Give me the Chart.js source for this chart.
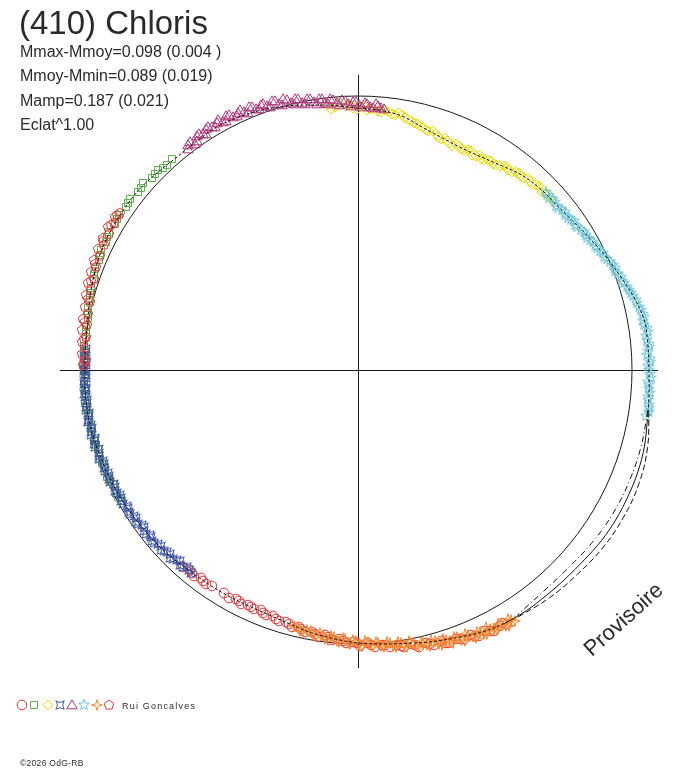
<!DOCTYPE html>
<html>
<head>
<meta charset="utf-8">
<title>(410) Chloris</title>
<script src="https://cdn.jsdelivr.net/npm/chart.js@4.4.1/dist/chart.umd.min.js"></script>
<style>
    html, body { margin: 0; padding: 0; background: #fff; }
    canvas { display: block; }
</style>
</head>
<body>
<canvas id="polarChart" width="688" height="768"></canvas>
<script>
// ========================================
// DATA (phase in degrees, clockwise from top; radius in units of the mean circle)
// ========================================
const titleText = '(410) Chloris';
const statLines = [
    'Mmax-Mmoy=0.098 (0.004 )',
    'Mmoy-Mmin=0.089 (0.019)',
    'Mamp=0.187 (0.021)',
    'Eclat^1.00'
];
const observer = 'Rui Goncalves';
const credit = '\u00A92026 OdG-RB';
const stamp = 'Provisoire';

// fitted lightcurve, every 5 degrees
const fitAngles = [0, 5, 10, 15, 20, 25, 30, 35, 40, 45, 50, 55, 60, 65, 70, 75, 80, 85,
    90, 95, 100, 105, 110, 115, 120, 125, 130, 135, 140, 145, 150, 155, 160, 165, 170, 175,
    180, 185, 190, 195, 200, 205, 210, 215, 220, 225, 230, 235, 240, 245, 250, 255, 260, 265,
    270, 275, 280, 285, 290, 295, 300, 305, 310, 315, 320, 325, 330, 335, 340, 345, 350, 355];
const fitRadius = [0.956, 0.951, 0.940, 0.916, 0.901, 0.894, 0.898, 0.911, 0.929, 0.938, 0.942, 0.953,
    0.971, 0.993, 1.015, 1.040, 1.060, 1.062, 1.062, 1.066, 1.072, 1.082, 1.087, 1.088,
    1.088, 1.085, 1.078, 1.074, 1.072, 1.072, 1.068, 1.057, 1.040, 1.027, 1.013, 1.004,
    0.996, 0.985, 0.974, 0.960, 0.951, 0.949, 0.951, 0.953, 0.956, 0.965, 0.971, 0.976,
    0.982, 0.987, 0.991, 0.995, 0.998, 0.998, 0.996, 0.998, 1.002, 1.013, 1.024, 1.033,
    1.036, 1.036, 1.035, 1.026, 1.020, 1.022, 1.026, 1.020, 1.011, 0.998, 0.982, 0.969];

// uncertainty envelope where no data covers the curve
const gapAngles = [98, 105, 112, 119, 126, 133, 140, 147];
const gapLow = [1.068, 1.070, 1.070, 1.068, 1.062, 1.054, 1.054, 1.067];
const gapHigh = [1.072, 1.094, 1.106, 1.108, 1.104, 1.094, 1.086, 1.074];

// sessions: [phase, radius]
const session1 = [[149.5,1.075],[151,1.068],[152.5,1.072],[154,1.060],[155.5,1.065],[157,1.052],
    [158.5,1.056],[160,1.046],[161.5,1.050],[163,1.036],[164.5,1.042],[166,1.028],[167.5,1.034],
    [169,1.018],[170.5,1.026],[172,1.012],[173.5,1.018],[175,1.006],[176.5,1.012],[178,0.998],
    [179.5,1.006],[181,0.992],[182.5,0.998],[184,0.984],[185.5,0.990],[187,0.976],[188.5,0.984],
    [190,0.970],[191.5,0.976],[193,0.963],[194.5,0.968],[196,0.956],[197.5,0.962],[199,0.951],
    [200.5,0.956],[202,0.946],[203.5,0.952],[205,0.946],[206.5,0.954],[208,0.948],[209.5,0.955],
    [211,0.950],[214,0.953],[215.5,0.958],[217,0.952],[218.5,0.960],[220,0.955],[221.5,0.962],
    [150.3,1.062],[153.2,1.066],[156.3,1.060],[159.2,1.050],[162.3,1.044],[165.2,1.034],
    [168.3,1.024],[171.2,1.018],[174.3,1.010],[177.2,1.004],[180.3,0.998],[183.2,0.990],
    [186.3,0.982],[189.2,0.976],[192.3,0.968],[195.3,0.960],[198.2,0.955],[201.3,0.950],
    [204.2,0.950],[207.3,0.950],[216.3,0.955],[219.3,0.958]];
const session2 = [[241,0.986],[243,0.992],[245,0.988],[247,0.995],[249,0.990],[251,0.997],
    [253,0.992],[255,0.999],[257,0.995],[259,1.001],[261,0.996],[263,1.002],[265,0.997],
    [267,1.003],[269,0.996],[271,1.002],[273,0.997],[275,1.004],[277,0.999],[279,1.006],
    [281,1.004],[283,1.012],[285,1.012],[287,1.020],[289,1.020],[291,1.028],[293,1.028],
    [295,1.036],[297,1.032],[299,1.040],[301,1.034],[303,1.041],[305,1.034],[307,1.040],
    [309,1.032],[311,1.038],[313,1.028],[315,1.032],[317,1.022],[318.5,1.027],
    [242,0.990],[246,0.992],[250,0.994],[254,0.996],[258,0.998],[262,0.999],[266,1.000],
    [270,0.999],[274,1.001],[278,1.002],[282,1.008],[286,1.016],[290,1.024],[294,1.032],
    [298,1.036],[302,1.038],[306,1.037],[310,1.035],[314,1.030],[316,1.027]];
const session3 = [[-6.5,0.972],[-5,0.962],[-3.8,0.975],[-2.5,0.966],[-1,0.958],[0.5,0.962],
    [2,0.950],[3.2,0.958],[4.5,0.948],[6,0.955],[7.5,0.944],[9,0.950],[10.5,0.936],[12,0.930],
    [13.5,0.925],[15,0.918],[16.3,0.910],[17.5,0.914],[19,0.900],[20.5,0.905],[22,0.893],
    [23.5,0.900],[25,0.889],[26.5,0.896],[28,0.890],[29.5,0.901],[31,0.895],[32.5,0.905],
    [34,0.903],[35.5,0.915],[37,0.912],[38.5,0.925],[40,0.922],[41.5,0.935],[43,0.930],
    [44.5,0.940],[46,0.934],[47.5,0.944],[49,0.938],
    [-5.8,0.958],[-4.3,0.970],[-1.8,0.970],[-0.2,0.952],[1.3,0.965],[2.7,0.954],[5.2,0.946],
    [6.8,0.950],[8.3,0.940],[9.8,0.944],[11.2,0.934],[12.8,0.924],[14.2,0.920],[15.8,0.912],
    [18.2,0.906],[19.8,0.896],[21.3,0.899],[22.8,0.888],[24.2,0.896],[25.8,0.892],[27.3,0.898],
    [28.8,0.893],[30.3,0.892],[31.8,0.900],[33.3,0.898],[34.8,0.908],[36.3,0.918],[37.8,0.916],
    [39.3,0.928],[40.8,0.928],[42.3,0.932],[43.8,0.936],[45.3,0.942],[46.8,0.940],[48.3,0.944]];
const session4 = [[219.5,0.960],[221,0.952],[222.3,0.964],[223.6,0.958],[225,0.968],[226.3,0.962],
    [227.6,0.972],[229,0.966],[230.3,0.975],[231.6,0.968],[233,0.978],[234.3,0.972],[235.6,0.981],
    [237,0.975],[238.3,0.984],[239.6,0.978],[241,0.987],[242.3,0.980],[243.6,0.990],[245,0.984],
    [246.3,0.992],[247.6,0.986],[249,0.994],[250.3,0.988],[251.6,0.997],[253,0.990],[254.3,0.999],
    [255.6,0.992],[257,1.001],[258.3,0.994],[259.6,1.002],[261,0.995],[262.3,1.003],[263.6,0.995],
    [265,1.002],[266.3,0.994],[267.6,1.001],[269,0.993],[270.3,1.000],[271.6,0.994],[273,1.001],
    [274.5,0.995],
    [220.2,0.957],[221.7,0.962],[223,0.955],[224.3,0.966],[225.7,0.960],[227,0.970],[228.3,0.964],
    [229.7,0.974],[231,0.970],[232.3,0.978],[233.7,0.970],[235,0.980],[236.3,0.974],[237.7,0.984],
    [239,0.978],[240.3,0.988],[241.7,0.982],[243,0.988],[244.3,0.984],[245.7,0.993],[247,0.988],
    [248.3,0.995],[249.7,0.988],[251,0.998],[252.3,0.991],[253.7,1.000],[255,0.993],[256.3,1.002],
    [257.7,0.994],[259,1.003],[260.3,0.996],[261.7,1.004],[263,0.996],[264.3,1.003],[265.7,0.995],
    [267,1.002],[268.3,0.994],[269.7,1.001],[271,0.994],[272.3,1.002],[273.7,0.995]];
const session5 = [[322.5,1.018],[323.6,1.034],[324.8,1.022],[326,1.040],[327.2,1.026],[328.4,1.042],
    [329.6,1.030],[330.8,1.044],[332,1.028],[333.2,1.042],[334.4,1.026],[335.6,1.040],[336.8,1.022],
    [338,1.036],[339.2,1.018],[340.4,1.032],[341.6,1.012],[342.8,1.026],[344,1.006],[345.2,1.020],
    [346.4,0.998],[347.6,1.012],[348.8,0.990],[350,1.004],[351.2,0.984],[352.4,0.996],[353.6,0.976],
    [354.8,0.990],[356,0.970],[357.2,0.984],[358.4,0.964],[359.6,0.978],[0.8,0.960],[2,0.972],
    [3.2,0.958],[4.4,0.968],[5.6,0.956],
    [323,1.028],[324.2,1.016],[325.4,1.036],[326.6,1.030],[327.8,1.040],[329,1.034],[330.2,1.038],
    [331.4,1.032],[332.6,1.046],[333.8,1.030],[335,1.036],[336.2,1.028],[337.4,1.038],[338.6,1.024],
    [339.8,1.030],[341,1.018],[342.2,1.030],[343.4,1.014],[344.6,1.024],[345.8,1.004],[347,1.016],
    [348.2,0.996],[349.4,1.008],[350.6,0.990],[351.8,1.000],[353,0.982],[354.2,0.994],[355.4,0.976],
    [356.6,0.988],[357.8,0.970],[359,0.980],[0.2,0.966],[1.4,0.974],[2.6,0.962],[3.8,0.972],[5,0.960]];
const session6 = [[46.5,0.945],[48,0.936],[49.5,0.944],[51,0.940],[52.5,0.950],[54,0.946],
    [55.5,0.957],[57,0.955],[58.5,0.966],[60,0.963],[61.5,0.978],[63,0.980],[64.5,0.992],
    [66,0.994],[67.5,1.006],[69,1.004],[70.5,1.020],[72,1.022],[73.5,1.030],[75,1.040],
    [76.5,1.046],[78,1.056],[79.5,1.061],[81,1.057],[82.5,1.066],[84,1.060],[85.5,1.066],
    [87,1.058],[88.5,1.067],[90,1.061],[91.5,1.068],[93,1.062],[94.5,1.070],[96,1.064],
    [97.5,1.071],[99,1.066],
    [47.3,0.940],[48.8,0.946],[50.3,0.938],[51.8,0.947],[53.3,0.944],[54.8,0.952],[56.3,0.952],
    [57.8,0.962],[59.3,0.968],[60.8,0.972],[62.3,0.976],[63.8,0.986],[65.3,0.990],[66.8,1.000],
    [68.3,1.010],[69.8,1.012],[71.3,1.018],[72.8,1.028],[74.3,1.034],[75.8,1.046],[77.3,1.050],
    [78.8,1.060],[80.3,1.056],[81.8,1.064],[83.3,1.058],[84.8,1.066],[86.3,1.062],[87.8,1.068],
    [89.3,1.060],[90.8,1.066],[92.3,1.060],[93.8,1.066],[95.3,1.062],[96.8,1.068],[98.3,1.072]];
const session7 = [[148,1.080],[149,1.062],[150,1.078],[151.2,1.058],[152.3,1.070],[153.5,1.050],
    [154.5,1.066],[155.6,1.048],[156.8,1.062],[158,1.040],[159,1.055],[160.2,1.034],[161.3,1.048],
    [162.5,1.030],[163.6,1.042],[164.8,1.022],[166,1.036],[167,1.018],[168.2,1.030],[169.4,1.008],
    [170.5,1.022],[171.6,1.004],[172.8,1.016],[174,1.000],[175.2,1.012],[176.3,0.996],[177.5,1.006],
    [178.6,0.990],[179.8,1.002],[181,0.986],[182.2,0.998],[183.3,0.980],[184.5,0.992],[185.7,0.976],
    [187,0.988],[188.3,0.970],[189.5,0.982],[191,0.966],[192.5,0.976],[194,0.962],
    [148.5,1.070],[149.5,1.084],[150.6,1.064],[151.8,1.076],[152.9,1.060],[154,1.072],[155,1.054],
    [156.2,1.068],[157.4,1.046],[158.5,1.062],[159.6,1.040],[160.8,1.054],[161.9,1.036],[163,1.048],
    [164.2,1.028],[165.4,1.040],[166.5,1.024],[167.6,1.036],[168.8,1.014],[170,1.026],[171,1.010],
    [172.2,1.022],[173.4,1.004],[174.6,1.016],[175.8,0.998],[176.9,1.010],[178,0.994],[179.2,1.006],
    [180.4,0.990],[181.6,1.000],[182.8,0.984],[184,0.994],[185.1,0.980],[186.4,0.990],[187.6,0.974],
    [188.9,0.984],[190.2,0.968],[191.8,0.978],[193.2,0.964]];
const session8 = [[271,1.004],[272.2,0.994],[273.4,1.010],[274.6,0.998],[275.8,1.014],[277,1.000],
    [278.2,1.016],[279.4,1.004],[280.6,1.020],[281.8,1.008],[283,1.024],[284.2,1.010],[285.4,1.030],
    [286.6,1.016],[287.8,1.034],[289,1.020],[290.2,1.040],[291.4,1.026],[292.6,1.044],[293.8,1.030],
    [295,1.048],[296.2,1.034],[297.4,1.050],[298.6,1.036],[299.8,1.052],[301,1.040],[302.2,1.050],
    [303.4,1.042],
    [271.6,0.998],[276.4,1.006],[280,1.012],[284.8,1.020],[288.4,1.028],[292,1.036],[296.8,1.042],
    [300.4,1.046],[302.8,1.046]];

const sessions = [session1, session2, session3, session4, session5, session6, session7, session8];

// ========================================
// STYLE
// ========================================
const sessionStyles = [
    { shape: 'circle',   color: '#e8343c' },
    { shape: 'square',   color: '#5ab64a' },
    { shape: 'diamond',  color: '#f2e400' },
    { shape: 'astroid',  color: '#3b55a3' },
    { shape: 'triangle', color: '#b0387f' },
    { shape: 'star5',    color: '#6cc6da' },
    { shape: 'star4',    color: '#f7882c' },
    { shape: 'pentagon', color: '#e8383a' }
];

const ORIGIN_X = 358;
const ORIGIN_Y = 370;
const PX_PER_UNIT = 274;
const PAD = { left: 10, right: 8, top: 10, bottom: 10 };
const CANVAS_W = 688;
const CANVAS_H = 768;
const AXIS_EXT = { left: 1.088, right: 1.095, top: 1.077, bottom: 1.088 };
const FONT = '"Liberation Sans", Arial, Helvetica, sans-serif';
const INK = '#2a2a2a';

// ========================================
// MARKERS
// ========================================
function makeMarker(shape, color) {
    const size = 14;
    const c = document.createElement('canvas');
    c.width = size;
    c.height = size;
    const g = c.getContext('2d');
    const m = size / 2;
    g.strokeStyle = color;
    g.lineWidth = 1;
    g.beginPath();

    if (shape === 'circle') {
        g.arc(m, m, 4.8, 0, Math.PI * 2);
    } else if (shape === 'square') {
        g.rect(m - 3.5, m - 3.5, 7, 7);
    } else if (shape === 'diamond') {
        g.moveTo(m, m - 5); g.lineTo(m + 5, m); g.lineTo(m, m + 5); g.lineTo(m - 5, m);
        g.closePath();
    } else if (shape === 'astroid') {
        const k = 4.2;
        g.moveTo(m - k, m - k);
        g.quadraticCurveTo(m, m - 1.2, m + k, m - k);
        g.quadraticCurveTo(m + 1.2, m, m + k, m + k);
        g.quadraticCurveTo(m, m + 1.2, m - k, m + k);
        g.quadraticCurveTo(m - 1.2, m, m - k, m - k);
    } else if (shape === 'triangle') {
        g.moveTo(m, m - 5.2); g.lineTo(m + 5.2, m + 3.8); g.lineTo(m - 5.2, m + 3.8);
        g.closePath();
    } else if (shape === 'star5') {
        for (let i = 0; i < 10; i++) {
            const r = i % 2 === 0 ? 5.6 : 2.4;
            const a = -Math.PI / 2 + i * Math.PI / 5;
            const px = m + r * Math.cos(a);
            const py = m + r * Math.sin(a);
            if (i === 0) g.moveTo(px, py); else g.lineTo(px, py);
        }
        g.closePath();
    } else if (shape === 'star4') {
        for (let i = 0; i < 8; i++) {
            const r = i % 2 === 0 ? 5.4 : 1.7;
            const a = -Math.PI / 2 + i * Math.PI / 4;
            const px = m + r * Math.cos(a);
            const py = m + r * Math.sin(a);
            if (i === 0) g.moveTo(px, py); else g.lineTo(px, py);
        }
        g.closePath();
    } else if (shape === 'pentagon') {
        for (let i = 0; i < 5; i++) {
            const a = -Math.PI / 2 + i * 2 * Math.PI / 5;
            const px = m + 5 * Math.cos(a);
            const py = m + 5 * Math.sin(a);
            if (i === 0) g.moveTo(px, py); else g.lineTo(px, py);
        }
        g.closePath();
    }
    g.stroke();
    return c;
}

const markers = sessionStyles.map(s => makeMarker(s.shape, s.color));

// ========================================
// POLAR -> CARTESIAN
// ========================================
function toXY(angleDeg, radius) {
    const a = angleDeg * Math.PI / 180;
    return { x: radius * Math.sin(a), y: radius * Math.cos(a) };
}

function inGap(angle) {
    return angle >= 97 && angle < 149;
}

// ========================================
// BACKGROUND PLUGIN: circle, axes
// ========================================
const framePlugin = {
    id: 'frame',
    beforeDatasetsDraw(chart) {
        const ctx = chart.ctx;
        const xs = chart.scales.x;
        const ys = chart.scales.y;
        const cx = xs.getPixelForValue(0);
        const cy = ys.getPixelForValue(0);
        const rad = xs.getPixelForValue(1) - cx;

        ctx.save();
        ctx.strokeStyle = '#1a1a1a';
        ctx.lineWidth = 1;

        // mean circle
        ctx.beginPath();
        ctx.arc(cx, cy, rad, 0, Math.PI * 2);
        ctx.stroke();

        // axes cross
        ctx.beginPath();
        ctx.moveTo(xs.getPixelForValue(-AXIS_EXT.left), Math.round(cy) + 0.5);
        ctx.lineTo(xs.getPixelForValue(AXIS_EXT.right), Math.round(cy) + 0.5);
        ctx.moveTo(Math.round(cx) + 0.5, ys.getPixelForValue(AXIS_EXT.top));
        ctx.lineTo(Math.round(cx) + 0.5, ys.getPixelForValue(-AXIS_EXT.bottom));
        ctx.stroke();
        ctx.restore();

        // crisp bitmap markers, like the original plot
        ctx.imageSmoothingEnabled = false;
    }
};

// ========================================
// TEXT PLUGIN
// ========================================
const textPlugin = {
    id: 'texts',
    afterDraw(chart) {
        const ctx = chart.ctx;
        ctx.save();
        ctx.fillStyle = INK;
        ctx.textAlign = 'left';
        ctx.textBaseline = 'alphabetic';

        ctx.font = '33px ' + FONT;
        ctx.fillText(titleText, 19, 34);

        ctx.font = '16px ' + FONT;
        statLines.forEach((line, i) => {
            ctx.fillText(line, 20, 57 + i * 24.3);
        });

        // session legend
        const legendX = [22, 34, 48, 60, 72, 84, 97, 109];
        markers.forEach((mk, i) => {
            ctx.drawImage(mk, legendX[i] - mk.width / 2, 705 - mk.height / 2);
        });
        ctx.font = '9px ' + FONT;
        if ('letterSpacing' in ctx) ctx.letterSpacing = '1.2px';
        ctx.fillText(observer, 122, 709);
        ctx.font = '8.5px ' + FONT;
        if ('letterSpacing' in ctx) ctx.letterSpacing = '0.3px';
        ctx.fillText(credit, 20, 766);
        if ('letterSpacing' in ctx) ctx.letterSpacing = '0px';

        // provisional stamp
        ctx.translate(624, 620);
        ctx.rotate(-42 * Math.PI / 180);
        ctx.textAlign = 'center';
        ctx.textBaseline = 'middle';
        ctx.font = '22px ' + FONT;
        ctx.fillText(stamp, 0, 0);
        ctx.restore();
    }
};

// ========================================
// DATASETS
// ========================================
function buildDatasets() {
    const fitPoints = fitAngles.map((a, i) => toXY(a, fitRadius[i]));
    fitPoints.push(toXY(360, fitRadius[0]));
    const fitAngleList = fitAngles.concat([360]);

    const datasets = [{
        label: 'fit',
        data: fitPoints,
        showLine: true,
        borderColor: '#111',
        borderWidth: 1,
        pointRadius: 0,
        tension: 0.35,
        order: 0,
        segment: {
            borderDash: ctx => inGap(fitAngleList[ctx.p0DataIndex]) ? [] : [3, 2]
        }
    }, {
        label: 'fit-low',
        data: gapAngles.map((a, i) => toXY(a, gapLow[i])),
        showLine: true,
        borderColor: '#111',
        borderWidth: 1,
        borderDash: [6, 3, 1, 3],
        pointRadius: 0,
        tension: 0.4,
        order: 0
    }, {
        label: 'fit-high',
        data: gapAngles.map((a, i) => toXY(a, gapHigh[i])),
        showLine: true,
        borderColor: '#111',
        borderWidth: 1,
        borderDash: [6, 3],
        pointRadius: 0,
        tension: 0.4,
        order: 0
    }];

    sessions.forEach((sess, i) => {
        datasets.push({
            label: 'session ' + (i + 1),
            data: sess.map(([a, r]) => toXY(a, r)),
            showLine: false,
            pointStyle: markers[i],
            pointRadius: 5,
            order: sessions.length - i
        });
    });
    return datasets;
}

// ========================================
// CHART
// ========================================
document.addEventListener('DOMContentLoaded', function() {
    const chartW = CANVAS_W - PAD.left - PAD.right;
    const chartH = CANVAS_H - PAD.top - PAD.bottom;
    const xMin = (PAD.left - ORIGIN_X) / PX_PER_UNIT;
    const xMax = xMin + chartW / PX_PER_UNIT;
    const yMax = (ORIGIN_Y - PAD.top) / PX_PER_UNIT;
    const yMin = yMax - chartH / PX_PER_UNIT;

    const ctx = document.getElementById('polarChart').getContext('2d');
    new Chart(ctx, {
        type: 'scatter',
        data: { datasets: buildDatasets() },
        options: {
            responsive: false,
            animation: false,
            devicePixelRatio: 1,
            layout: { padding: PAD, autoPadding: false },
            plugins: {
                legend: { display: false },
                tooltip: { enabled: false }
            },
            scales: {
                x: { type: 'linear', min: xMin, max: xMax, display: false },
                y: { type: 'linear', min: yMin, max: yMax, display: false }
            }
        },
        plugins: [framePlugin, textPlugin]
    });
});
</script>
</body>
</html>
